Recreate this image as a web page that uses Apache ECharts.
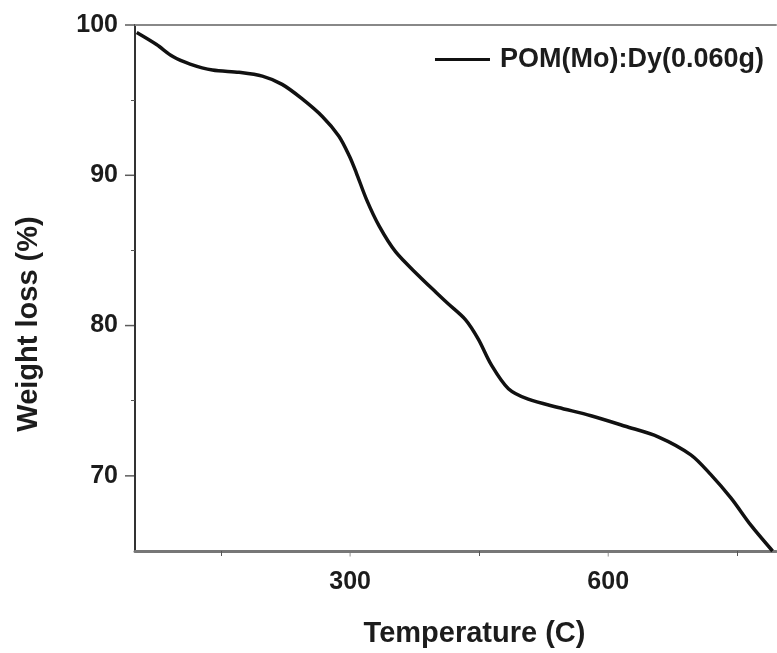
<!DOCTYPE html>
<html>
<head>
<meta charset="utf-8">
<title>TGA curve</title>
<script src="https://cdn.jsdelivr.net/npm/echarts@6/dist/echarts.min.js"></script>
<style>
  html, body { margin: 0; padding: 0; background: #fff; }
  #chart { width: 777px; height: 653px; }
</style>
</head>
<body>
<div id="chart"></div>
<script>
// temperature (C) vs weight loss (%)
const temps = [52, 75, 94, 114, 140, 171, 198, 221, 244, 268, 287, 299, 307, 319, 334, 353, 380, 400, 413, 434, 449, 464, 484, 507, 542, 580, 620, 658, 696, 719, 743, 766, 791]
const weights = [99.5, 98.7, 97.9, 97.4, 97.0, 96.85, 96.6, 96.05, 95.1, 93.9, 92.6, 91.3, 90.2, 88.4, 86.6, 84.9, 83.3, 82.2, 81.5, 80.4, 79.1, 77.4, 75.8, 75.1, 74.55, 74.0, 73.3, 72.6, 71.4, 70.1, 68.5, 66.7, 65.0]

const seriesName = 'POM(Mo):Dy(0.060g)'
const xMin = 50
const xMax = 795
const xMinorTicks = [150, 450, 750]
const xLabels = [300, 600]
const yMin = 65
const yMax = 100
const yMinorTicks = [75, 85, 95]
const yLabels = [70, 80, 90, 100]

const font = "'Liberation Sans', Arial, sans-serif"
const textColor = '#1c1c1c'

const chart = echarts.init(document.getElementById('chart'))

const labelStyle = { fontFamily: font, fontSize: 25, fontWeight: 'bold', color: textColor }
const nameStyle = { fontFamily: font, fontSize: 29, fontWeight: 'bold', color: textColor }

// ECharts 6 leaves out axis ticks under labelled values, so those
// tick marks are drawn as small rect symbols on the axis line instead
function tickSeries(data, size, offset, color) {
  return {
    type: 'scatter',
    silent: true,
    clip: false,
    z: 5,
    symbol: 'rect',
    symbolSize: size,
    symbolOffset: offset,
    itemStyle: { color },
    data,
  }
}

const option = {
  animation: false,
  backgroundColor: '#fff',
  grid: { left: 135, right: 1, top: 25, bottom: 100 },
  legend: {
    right: 8,
    top: 41,
    icon: 'rect',
    itemWidth: 55,
    itemHeight: 3,
    textStyle: { ...labelStyle, fontSize: 27, padding: [0, 0, 0, 5] },
    data: [seriesName],
  },
  xAxis: [
    {
      type: 'value',
      position: 'bottom',
      min: xMin,
      max: xMax,
      name: 'Temperature (C)',
      nameLocation: 'middle',
      nameGap: 68,
      nameTextStyle: { ...nameStyle, padding: [0, 0, 0, 38] },
      axisLine: { show: true, lineStyle: { color: '#777', width: 3 } },
      axisTick: { show: true, customValues: xMinorTicks, length: 5, lineStyle: { color: '#555', width: 1 } },
      axisLabel: { ...labelStyle, customValues: xLabels, margin: 19 },
      splitLine: { show: false },
    },
    {
      // top frame line
      type: 'value',
      position: 'top',
      min: xMin,
      max: xMax,
      axisLine: { show: true, lineStyle: { color: '#888', width: 2 } },
      axisTick: { show: false },
      axisLabel: { show: false },
      splitLine: { show: false },
    },
  ],
  yAxis: [
    {
      type: 'value',
      position: 'left',
      min: yMin,
      max: yMax,
      name: 'Weight loss (%)',
      nameLocation: 'middle',
      nameGap: 92,
      nameTextStyle: { ...nameStyle, padding: [0, 72, 0, 0] },
      axisLine: { show: true, lineStyle: { color: '#333', width: 2 } },
      axisTick: { show: true, customValues: yMinorTicks, length: 4, lineStyle: { color: '#555', width: 1 } },
      axisLabel: { ...labelStyle, customValues: yLabels, margin: 17 },
      splitLine: { show: false },
    },
  ],
  series: [
    {
      name: seriesName,
      type: 'line',
      smooth: 0.3,
      showSymbol: false,
      lineStyle: { color: '#111', width: 3.5 },
      itemStyle: { color: '#111' },
      data: temps.map((t, i) => [t, weights[i]]),
    },
    // major y ticks, pointing left from the axis line
    tickSeries(yLabels.map((v) => [xMin, v]), [10, 1.5], [-5, 0], '#333'),
    // x ticks under the labels, pointing down from the axis line
    tickSeries(xLabels.map((v) => [v, yMin]), [1, 5], [0, 3], '#777'),
  ],
}

chart.setOption(option)
</script>
</body>
</html>
